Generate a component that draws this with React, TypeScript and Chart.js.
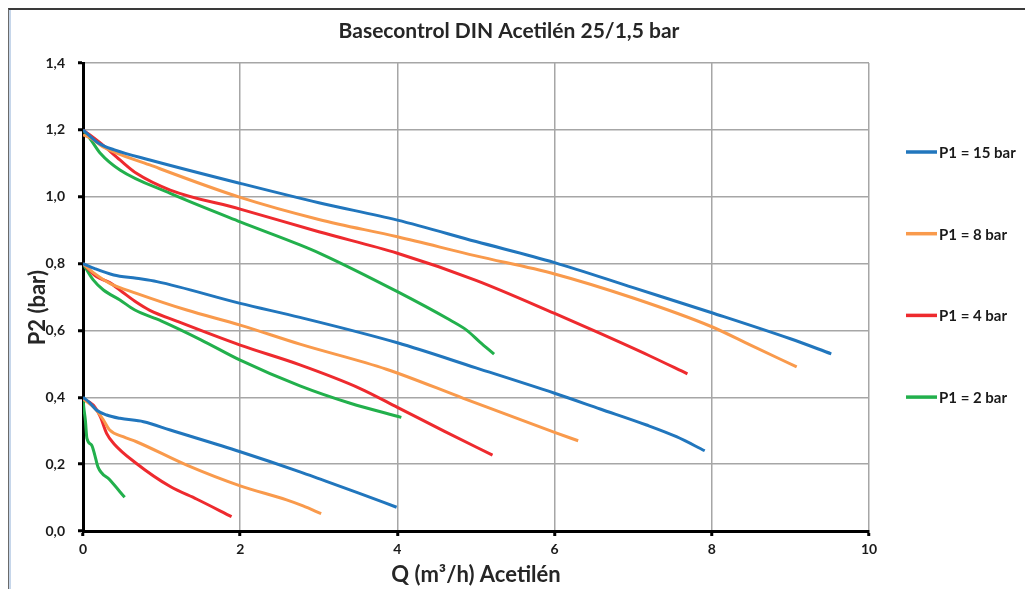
import React, { useEffect, useRef } from "react";
import { Chart, registerables } from "chart.js";

Chart.register(...registerables);

const chartTitle = "Basecontrol DIN Acetilén 25/1,5 bar";
const xTitle = "Q (m³/h) Acetilén";
const yTitle = "P2 (bar)\u00A0\u00A0\u00A0\u00A0\u200B";
const seriesLabels = ["P1 = 15 bar", "P1 = 8 bar", "P1 = 4 bar", "P1 = 2 bar"];
const seriesColors = ["#2176bd", "#f99a4c", "#ee2a2e", "#22b04c"];
const xTickValues = [0, 2, 4, 6, 8, 10];
const yTickValues = [0, 0.2, 0.4, 0.6, 0.8, 1.0, 1.2, 1.4];

// P1 = 15 bar (blue) — curves starting at P2 = 1.2, 0.8, 0.4
const p15High = [[0, 1.2], [0.2, 1.16], [0.4, 1.14], [0.85, 1.11], [2, 1.04], [3, 0.982], [4, 0.93], [5, 0.866], [6, 0.803], [7, 0.728], [8, 0.653], [9, 0.575], [9.52, 0.53]];
const p15Mid = [[0, 0.8], [0.15, 0.785], [0.39, 0.766], [0.68, 0.756], [0.94, 0.746], [2, 0.681], [2.76, 0.639], [4, 0.563], [5, 0.488], [6, 0.412], [6.58, 0.365], [7.17, 0.317], [7.55, 0.282], [7.91, 0.24]];
const p15Low = [[0, 0.4], [0.08, 0.385], [0.17, 0.362], [0.3, 0.347], [0.47, 0.337], [0.77, 0.327], [1.11, 0.302], [2, 0.237], [2.76, 0.177], [3.02, 0.155], [3.5, 0.114], [3.99, 0.071]];

// P1 = 8 bar (orange)
const p8High = [[0, 1.185], [0.1, 1.175], [0.25, 1.15], [0.85, 1.095], [2, 0.998], [3, 0.932], [4, 0.88], [5, 0.823], [6, 0.769], [7, 0.697], [8, 0.611], [8.5, 0.555], [9.08, 0.491]];
const p8Mid = [[0, 0.8], [0.15, 0.77], [0.34, 0.741], [0.68, 0.711], [1.32, 0.661], [2, 0.616], [2.76, 0.559], [3.86, 0.484], [4.84, 0.397], [6, 0.295], [6.3, 0.27]];
const p8Low = [[0, 0.395], [0.15, 0.367], [0.26, 0.332], [0.34, 0.302], [0.51, 0.282], [0.68, 0.267], [1.32, 0.197], [2, 0.135], [2.59, 0.093], [2.8, 0.075], [3.03, 0.052]];

// P1 = 4 bar (red)
const p4High = [[0, 1.2], [0.25, 1.155], [0.47, 1.11], [0.68, 1.07], [1.11, 1.02], [2, 0.963], [3, 0.895], [4, 0.831], [5, 0.75], [6, 0.651], [6.58, 0.591], [7.2, 0.525], [7.69, 0.47]];
const p4Mid = [[0, 0.8], [0.17, 0.761], [0.34, 0.743], [0.5, 0.715], [0.68, 0.684], [0.85, 0.66], [1.2, 0.627], [2, 0.556], [2.76, 0.497], [3.52, 0.427], [4, 0.37], [4.6, 0.298], [5.21, 0.227]];
const p4Low = [[0, 0.395], [0.13, 0.377], [0.22, 0.342], [0.3, 0.292], [0.39, 0.262], [0.68, 0.202], [1.11, 0.133], [1.45, 0.095], [1.89, 0.043]];

// P1 = 2 bar (green)
const p2High = [[0, 1.2], [0.1, 1.17], [0.22, 1.13], [0.47, 1.08], [1.11, 1.01], [2, 0.925], [2.76, 0.856], [3.02, 0.83], [4, 0.716], [4.67, 0.631], [4.88, 0.601], [5.05, 0.565], [5.23, 0.529]];
const p2Mid = [[0, 0.8], [0.13, 0.751], [0.26, 0.721], [0.47, 0.691], [0.66, 0.661], [1, 0.628], [1.5, 0.572], [2, 0.511], [2.76, 0.434], [3.4, 0.382], [4.05, 0.34]];
const p2Low = [[0, 0.4], [0.01, 0.37], [0.03, 0.332], [0.05, 0.277], [0.11, 0.257], [0.15, 0.227], [0.19, 0.192], [0.34, 0.153], [0.53, 0.101]];

const seriesCurves = [
  [p15High, p15Mid, p15Low],
  [p8High, p8Mid, p8Low],
  [p4High, p4Mid, p4Low],
  [p2High, p2Mid, p2Low],
];

const FONT = "Lato, 'Open Sans', sans-serif";

const sideLegend = {
  id: "sideLegend",
  afterDraw(chart: any) {
    const { ctx, chartArea } = chart;
    ctx.save();
    seriesLabels.forEach((label, i) => {
      const y = chartArea.top + 89 + i * 81.7;
      const x = chartArea.right + 37;
      ctx.strokeStyle = seriesColors[i];
      ctx.lineWidth = 3.5;
      ctx.lineCap = "butt";
      ctx.beginPath();
      ctx.moveTo(x, y);
      ctx.lineTo(x + 31, y);
      ctx.stroke();
      ctx.fillStyle = "#1a1a1a";
      ctx.font = `bold 15px ${FONT}`;
      ctx.textBaseline = "middle";
      ctx.textAlign = "left";
      ctx.fillText(label, x + 33, y + 1);
    });
    ctx.restore();
  },
};

export default function App() {
  const canvasRef = useRef<HTMLCanvasElement | null>(null);

  useEffect(() => {
    if (!canvasRef.current) return;
    const datasets: any[] = [];
    seriesCurves.forEach((curves, s) => {
      curves.forEach((pts) => {
        datasets.push({
          label: seriesLabels[s],
          data: pts.map(([x, y]) => ({ x, y })),
          borderColor: seriesColors[s],
          backgroundColor: seriesColors[s],
          borderWidth: 3,
          pointRadius: 0,
          showLine: true,
          fill: false,
          cubicInterpolationMode: "monotone",
        });
      });
    });

    const tickFont = { family: FONT, size: 14, weight: "bold" as const };
    const axisTitleFont = { family: FONT, size: 22, weight: "bold" as const };
    const gridOpts = { color: "#a6a6a6", lineWidth: 1.5, tickColor: "#000", tickWidth: 3, tickLength: 5 };

    const chart = new Chart(canvasRef.current, {
      type: "scatter",
      data: { datasets },
      plugins: [sideLegend],
      options: {
        animation: false,
        responsive: false,
        events: [],
        layout: { padding: { left: 0, right: 18, top: 0, bottom: 0 } },
        plugins: {
          legend: { display: false },
          tooltip: { enabled: false },
          title: {
            display: true,
            text: chartTitle,
            color: "#262626",
            font: { family: FONT, size: 21, weight: "bold" as const },
            padding: { top: 8.4, bottom: 19.4 },
          },
        },
        scales: {
          x: {
            type: "linear",
            min: xTickValues[0],
            max: xTickValues[xTickValues.length - 1],
            afterBuildTicks: (s: any) => {
              s.ticks = xTickValues.map((v) => ({ value: v }));
            },
            afterFit: (s: any) => {
              s.height = 58;
            },
            grid: gridOpts,
            border: { color: "#000", width: 3 },
            ticks: {
              padding: 5,
              color: "#1a1a1a",
              font: tickFont,
              callback: (v: any) => String(v),
            },
            title: {
              display: true,
              text: xTitle,
              color: "#262626",
              font: axisTitleFont,
              padding: { top: 0, bottom: 1 },
            },
          },
          y: {
            type: "linear",
            min: yTickValues[0],
            max: yTickValues[yTickValues.length - 1],
            afterBuildTicks: (s: any) => {
              s.ticks = yTickValues.map((v) => ({ value: v }));
            },
            afterFit: (s: any) => {
              s.width = 72;
            },
            grid: gridOpts,
            border: { color: "#000", width: 3 },
            ticks: {
              padding: 13,
              color: "#1a1a1a",
              font: tickFont,
              callback: (v: any) => Number(v).toFixed(1).replace(".", ","),
            },
            title: {
              display: true,
              text: yTitle,
              color: "#262626",
              font: axisTitleFont,
              padding: { top: 14, bottom: 0 },
            },
          },
          y2: {
            type: "linear",
            position: "right",
            display: true,
            grid: { display: false },
            border: { display: false },
            ticks: { display: false },
            afterFit: (s: any) => {
              s.width = 138;
            },
          },
        },
      } as any,
    });
    return () => chart.destroy();
  }, []);

  return (
    <>
      <style>{"body{margin:8px 0 0 8px;overflow:hidden}"}</style>
      <div style={{ borderTop: "2px solid #3a3a3a", borderLeft: "1px solid #6a6a6a", width: 1017 }}>
        <div style={{ borderLeft: "2px solid #c6d6ea" }}>
          <canvas ref={canvasRef} width={1014} height={579} style={{ display: "block", width: 1014, height: 579 }} />
        </div>
      </div>
    </>
  );
}
